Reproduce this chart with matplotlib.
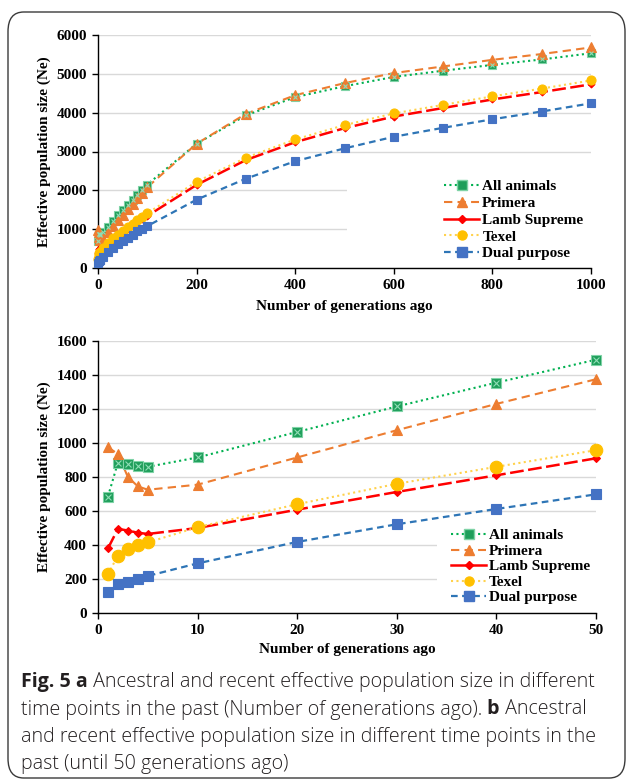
import matplotlib
matplotlib.use("Agg")
import matplotlib.pyplot as plt
from matplotlib.patches import FancyBboxPatch, Rectangle
from matplotlib.lines import Line2D

# ---------------- data ----------------
gens = [1, 2, 3, 4, 5, 10, 20, 30, 40, 50, 60, 70, 80, 90, 100,
        200, 300, 400, 500, 600, 700, 800, 900, 1000]
all_animals = [685, 885, 875, 865, 860, 915, 1065, 1215, 1355, 1490, 1620, 1760, 1890, 2020, 2150,
               3200, 3930, 4400, 4680, 4920, 5080, 5230, 5370, 5530]
primera = [975, 935, 800, 745, 725, 755, 915, 1075, 1230, 1375, 1520, 1660, 1800, 1940, 2080,
           3200, 3970, 4450, 4760, 5020, 5190, 5360, 5510, 5680]
lamb_supreme = [380, 495, 485, 472, 465, 500, 608, 712, 810, 910, 1000, 1090, 1180, 1260, 1340,
                2140, 2780, 3240, 3600, 3900, 4120, 4340, 4530, 4730]
texel = [228, 338, 375, 398, 415, 505, 640, 760, 860, 958, 1050, 1140, 1230, 1320, 1410,
         2220, 2840, 3310, 3680, 3980, 4200, 4420, 4620, 4830]
dual_purpose = [125, 168, 185, 202, 218, 292, 418, 522, 612, 698, 780, 860, 940, 1010, 1080,
                1760, 2300, 2750, 3080, 3380, 3610, 3830, 4030, 4240]

series_names = ["All animals", "Primera", "Lamb Supreme", "Texel", "Dual purpose"]
series_values = [all_animals, primera, lamb_supreme, texel, dual_purpose]

top_xticks = [0, 200, 400, 600, 800, 1000]
top_yticks = [0, 1000, 2000, 3000, 4000, 5000, 6000]
bot_xticks = [0, 10, 20, 30, 40, 50]
bot_yticks = [0, 200, 400, 600, 800, 1000, 1200, 1400, 1600]
bot_max_gen = 50

xlabel = "Number of generations ago"
ylabel = "Effective population size (Ne)"

caption_lines = [
    [("Fig. 5 a", True), (" Ancestral and recent effective population size in different", False)],
    [("time points in the past (Number of generations ago).", False), (" b", True), (" Ancestral", False)],
    [("and recent effective population size in different time points in the", False)],
    [("past (until 50 generations ago)", False)],
]

# ---------------- style ----------------
SERIF = ["Liberation Serif", "DejaVu Serif"]
styles = [
    dict(color="#00B050", ls=(0, (1, 1.6)), lw=1.5, marker="s", mfc="#1E9E5A", mec="#7FD3A6", ms=6, ms_b=7),
    dict(color="#ED7D31", ls=(0, (4, 2.5)), lw=1.5, marker="^", mfc="#ED7D31", mec="#ED7D31", ms=6.5, ms_b=7.5),
    dict(color="#FF0000", ls=(0, (5.5, 1.8)), lw=1.8, marker="D", mfc="#FF0000", mec="#FF0000", ms=3.5, ms_b=4),
    dict(color="#FFD24D", ls=(0, (1, 1.6)), lw=1.5, marker="o", mfc="#FFC000", mec="#FFC000", ms=6.5, ms_b=9),
    dict(color="#2E75B6", ls=(0, (3, 2)), lw=1.6, marker="s", mfc="#4472C4", mec="#4472C4", ms=6, ms_b=7),
]

W, H = 630, 782
fig = plt.figure(figsize=(W / 100, H / 100), dpi=100)

# border
fig.patches.append(FancyBboxPatch((8 / W, 4 / H), 617 / W, 766 / H,
                                  boxstyle="round,pad=0,rounding_size=0.025",
                                  transform=fig.transFigure, fill=False,
                                  edgecolor="#3a3a3a", linewidth=1.0))


def ax_rect(l, r, t, b):
    return [l / W, 1 - b / H, (r - l) / W, (b - t) / H]


ax1 = fig.add_axes(ax_rect(98, 591, 35, 268))
ax2 = fig.add_axes(ax_rect(98, 596, 341, 613))


def style_axes(ax, xticks, yticks, xlabelpad):
    ax.set_xlim(xticks[0], xticks[-1])
    ax.set_ylim(yticks[0], yticks[-1])
    ax.set_xticks(xticks)
    ax.set_yticks(yticks)
    ax.set_axisbelow(True)
    ax.grid(axis="y", color="#D9D9D9", lw=1.0)
    for s in ["top", "right"]:
        ax.spines[s].set_visible(False)
    for s in ["left", "bottom"]:
        ax.spines[s].set_color("#000000")
        ax.spines[s].set_linewidth(1.0)
    ax.tick_params(direction="out", length=4, width=1.0, pad=4)
    for lab in ax.get_xticklabels() + ax.get_yticklabels():
        lab.set_fontfamily(SERIF)
        lab.set_fontweight("bold")
        lab.set_fontsize(11)
    ax.set_xlabel(xlabel, fontfamily=SERIF, fontweight="bold", fontsize=11, labelpad=xlabelpad)
    ax.set_ylabel(ylabel, fontfamily=SERIF, fontweight="bold", fontsize=11, labelpad=4)


style_axes(ax1, top_xticks, top_yticks, 6)
style_axes(ax2, bot_xticks, bot_yticks, 4)

# white boxes behind legends (hide gridlines there)
ax1.add_patch(Rectangle((0.505, 0.005), 0.495, 0.415, transform=ax1.transAxes,
                        facecolor="white", edgecolor="none", zorder=1))
ax2.add_patch(Rectangle((0.68, 0.005), 0.32, 0.35, transform=ax2.transAxes,
                        facecolor="white", edgecolor="none", zorder=1))

for ax, bottom in [(ax1, False), (ax2, True)]:
    handles = []
    for name, vals, st in zip(series_names, series_values, styles):
        if bottom:
            xs = [g for g in gens if g <= bot_max_gen]
            ys = [v for g, v in zip(gens, vals) if g <= bot_max_gen]
            ms = st["ms_b"]
        else:
            xs, ys, ms = gens, vals, st["ms"]
        ax.plot(xs, ys, color=st["color"], ls=st["ls"], lw=st["lw"], zorder=2, clip_on=False)
        ax.plot(xs, ys, ls="none", marker=st["marker"], mfc=st["mfc"], mec=st["mec"],
                mew=0.8, ms=ms, zorder=3, clip_on=False)
        if name == "All animals":
            ax.plot(xs, ys, ls="none", marker="x", color="#8FDDB5", ms=ms * 0.6, mew=0.8,
                    zorder=4, clip_on=False)
        handles.append(Line2D([], [], color=st["color"], ls=st["ls"] if name != "Lamb Supreme" else "-",
                              lw=st["lw"], marker=st["marker"], mfc=st["mfc"], mec=st["mec"],
                              ms=6.5 if name != "Lamb Supreme" else 4))
    if bottom:
        anchor = ((452 - 98) / 498 - 0.005, (613 - 606) / 272)
    else:
        anchor = ((445 - 98) / 493 - 0.005, (268 - 262) / 233)
    leg = ax.legend(handles, series_names, loc="lower left", bbox_to_anchor=anchor,
                    frameon=False, prop=dict(family=SERIF, weight="bold", size=11),
                    handlelength=2.3, handletextpad=0.2, labelspacing=0.12 if bottom else 0.2,
                    borderpad=0.1, borderaxespad=0)
    leg.set_zorder(5)

# caption
fig.canvas.draw()
renderer = fig.canvas.get_renderer()
CAP_FONT = ["Open Sans", "DejaVu Sans"]
line_ys = [682, 709.5, 737, 764.5]
for pieces, y in zip(caption_lines, line_ys):
    x = 21
    for txt, bold in pieces:
        t = fig.text(x / W, 1 - y / H, txt, fontfamily=CAP_FONT, fontsize=14.1,
                     fontweight="bold" if bold else "light", color="#231F20",
                     va="center", ha="left")
        bb = t.get_window_extent(renderer)
        x += bb.width

fig.savefig("out.png", dpi=100)
